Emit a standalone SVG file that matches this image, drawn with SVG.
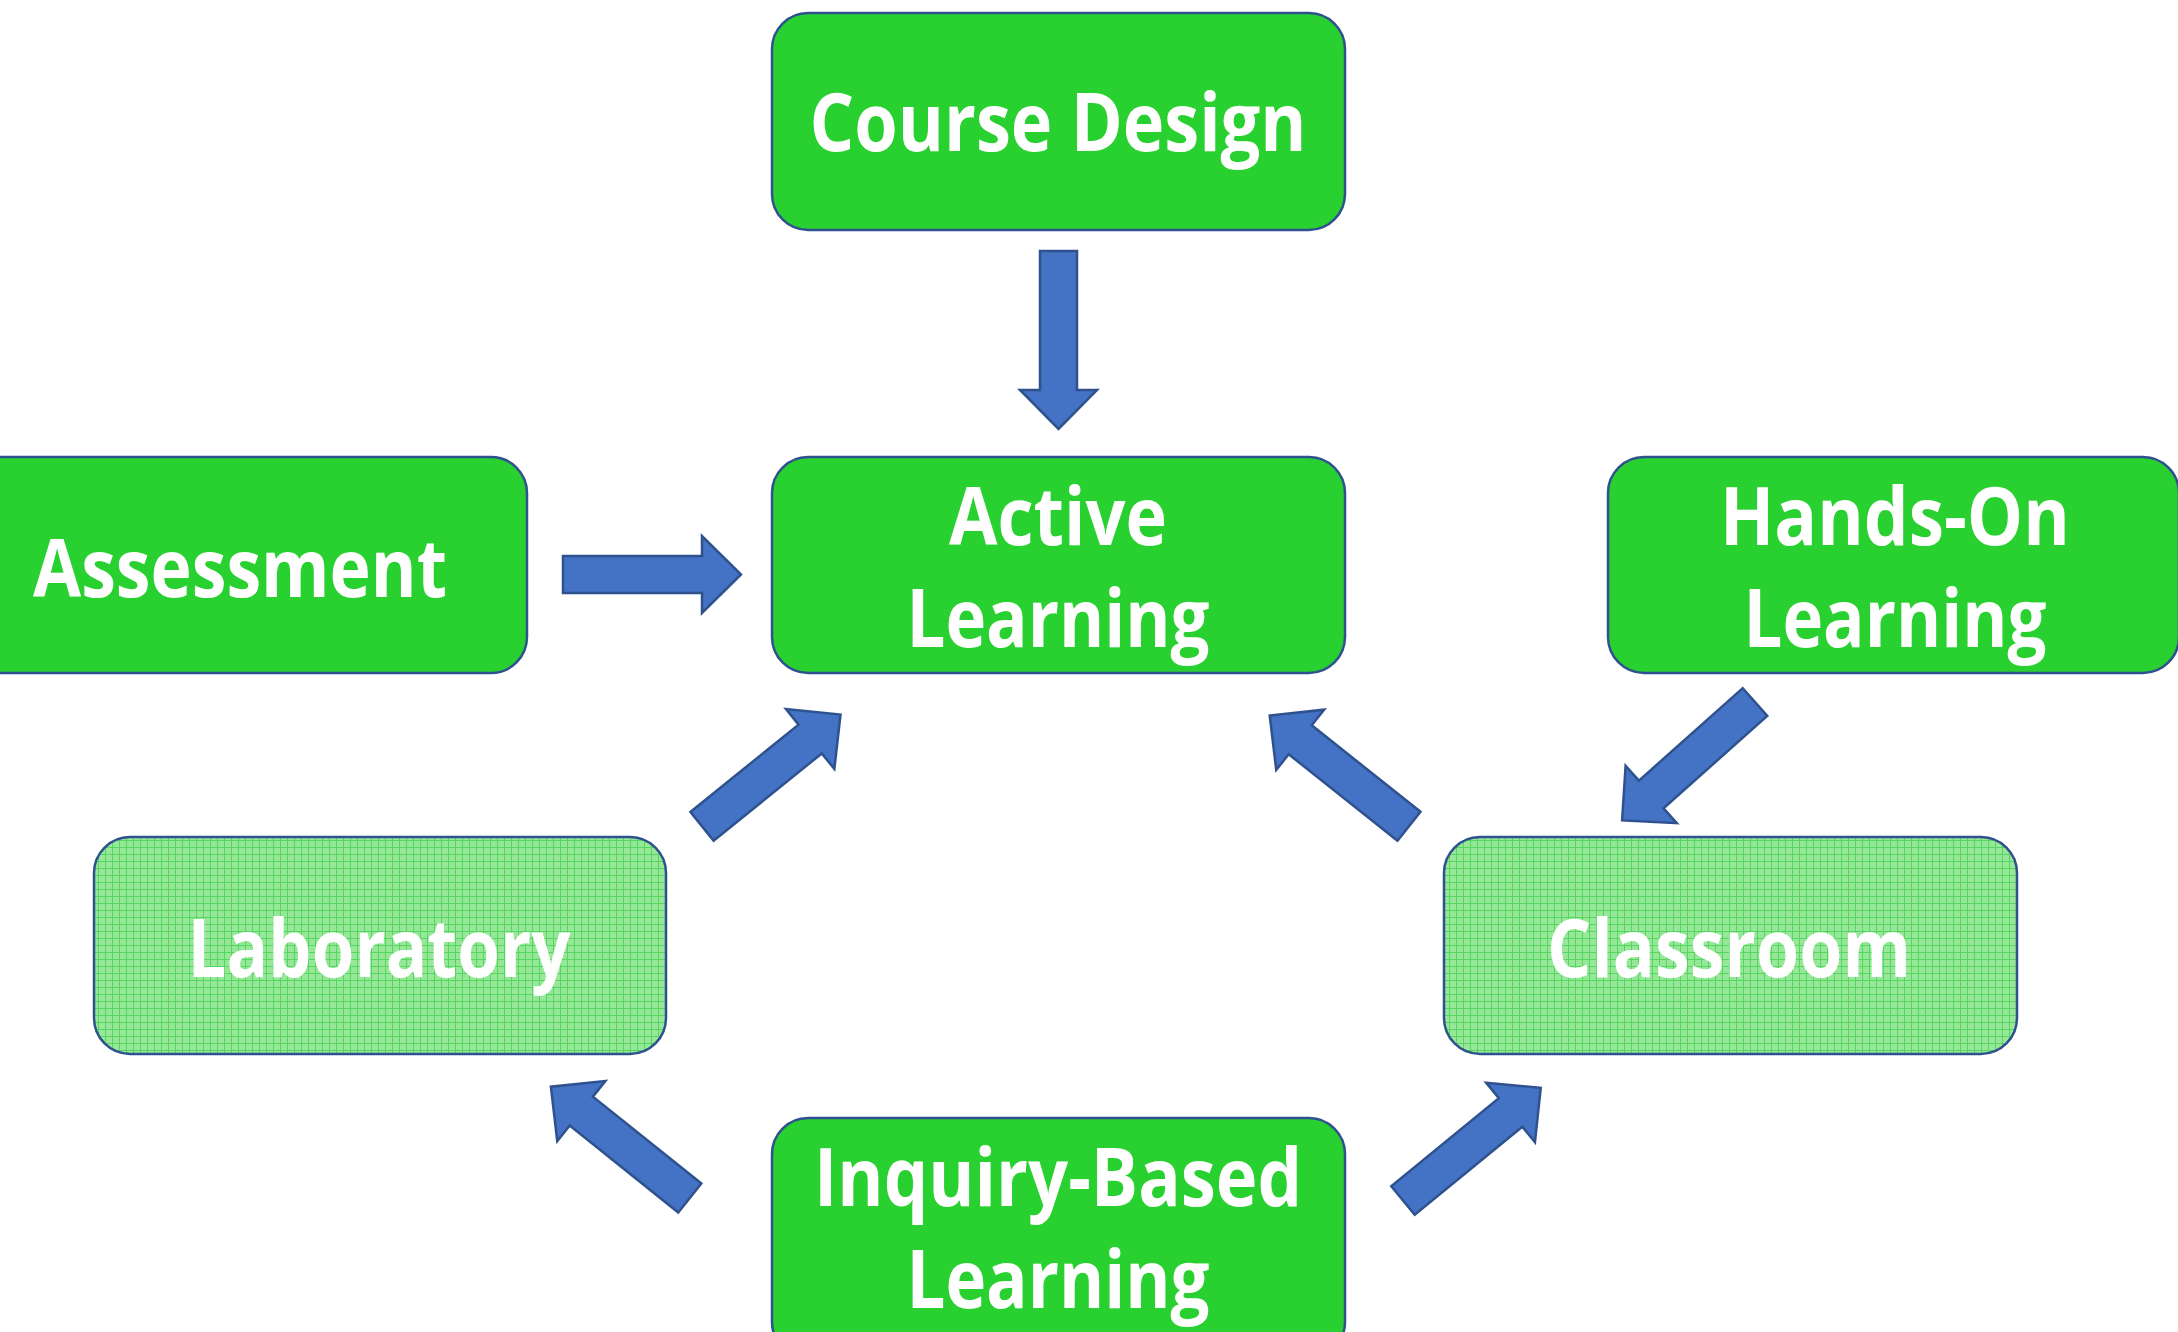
<svg xmlns="http://www.w3.org/2000/svg" xmlns:xlink="http://www.w3.org/1999/xlink" width="2178" height="1332" viewBox="0 0 2178 1332">
<style>
.box{fill:#28D030;stroke:#2F528F;stroke-width:2.5}
.pbox{fill:url(#grid);stroke:#2F528F;stroke-width:2.5}
.lbl{font-family:"Open Sans","Liberation Sans",sans-serif;font-weight:bold;font-size:80px;fill:#FFFFFF;text-anchor:middle}
.arr{fill:#4472C4;stroke:#2F528F;stroke-width:2.5;stroke-linejoin:miter}
</style>
<defs>
<pattern id="grid" width="7" height="7" patternUnits="userSpaceOnUse">
<rect width="7" height="7" fill="#97E799"/>
<path d="M0.5,0 V7 M0,0.5 H7" stroke="#55D661" stroke-width="1"/>
</pattern>
<path id="arrow" d="M0,-18.5 L139,-18.5 L139,-38.5 L178,0 L139,38.5 L139,18.5 L0,18.5 Z"/>
</defs>
<rect width="2178" height="1332" fill="#FFFFFF"/>
<g id="connectors">
<use xlink:href="#arrow" class="arr" transform="translate(1058.5,251) rotate(90)"/>
<use xlink:href="#arrow" class="arr" transform="translate(563,574.5)"/>
<use xlink:href="#arrow" class="arr" transform="translate(702,826.3) rotate(-38.9)"/>
<use xlink:href="#arrow" class="arr" transform="translate(1409,826.3) rotate(-141.5)"/>
<use xlink:href="#arrow" class="arr" transform="translate(1755,702) rotate(138.3)"/>
<use xlink:href="#arrow" class="arr" transform="translate(689.8,1198) rotate(-141.3)"/>
<use xlink:href="#arrow" class="arr" transform="translate(1403,1200.5) rotate(-39.3)"/>
</g>
<g id="course-design">
<rect class="box" x="772" y="13" width="573" height="217" rx="36" ry="36"/>
<text class="lbl" x="1058" y="151" textLength="497" lengthAdjust="spacingAndGlyphs">Course Design</text>
</g>
<g id="active-learning">
<rect class="box" x="772" y="457" width="573" height="216" rx="36" ry="36"/>
<text class="lbl" x="1058" y="545" textLength="218" lengthAdjust="spacingAndGlyphs">Active</text>
<text class="lbl" x="1058" y="647" textLength="303" lengthAdjust="spacingAndGlyphs">Learning</text>
</g>
<g id="assessment">
<rect class="box" x="-46" y="457" width="573" height="216" rx="36" ry="36"/>
<text class="lbl" x="240" y="597" textLength="414" lengthAdjust="spacingAndGlyphs">Assessment</text>
</g>
<g id="hands-on-learning">
<rect class="box" x="1608" y="457" width="571" height="216" rx="36" ry="36"/>
<text class="lbl" x="1895" y="545" textLength="350" lengthAdjust="spacingAndGlyphs">Hands-On</text>
<text class="lbl" x="1895" y="647" textLength="303" lengthAdjust="spacingAndGlyphs">Learning</text>
</g>
<g id="laboratory">
<rect class="pbox" x="94" y="837" width="572" height="217" rx="36" ry="36"/>
<text class="lbl" x="379" y="977" textLength="383" lengthAdjust="spacingAndGlyphs">Laboratory</text>
</g>
<g id="classroom">
<rect class="pbox" x="1444" y="837" width="573" height="217" rx="36" ry="36"/>
<text class="lbl" x="1729" y="977" textLength="364" lengthAdjust="spacingAndGlyphs">Classroom</text>
</g>
<g id="inquiry-based-learning">
<rect class="box" x="772" y="1118" width="573" height="240" rx="36" ry="36"/>
<text class="lbl" x="1058" y="1206" textLength="488" lengthAdjust="spacingAndGlyphs">Inquiry-Based</text>
<text class="lbl" x="1058" y="1308" textLength="303" lengthAdjust="spacingAndGlyphs">Learning</text>
</g>
</svg>
